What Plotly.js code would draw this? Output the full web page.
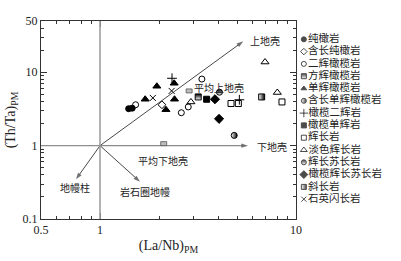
<!DOCTYPE html>
<html><head><meta charset="utf-8">
<script src="https://cdn.plot.ly/plotly-3.0.1.min.js"></script>
<style>html,body{margin:0;padding:0;background:#fff}</style>
</head><body><div id="chart" style="width:401px;height:261px"></div>
<script>
// ---- data ----
const categories = ['纯橄岩','含长纯橄岩','二辉橄榄岩','方辉橄榄岩','单辉橄榄岩','含长单辉橄榄岩','橄榄二辉岩','橄榄单辉岩','辉长岩','淡色辉长岩','辉长苏长岩','橄榄辉长苏长岩','斜长岩','石英闪长岩'];
const laNbDunite = [1.40, 1.46];            const thTaDunite = [3.19, 3.24];
const laNbPlagDunite = [2.07];              const thTaPlagDunite = [3.61];
const laNbLherzolite = [1.52, 2.60, 2.82, 3.31]; const thTaLherzolite = [3.61, 2.81, 3.37, 8.08];
const laNbHarzburgite = [3.17];             const thTaHarzburgite = [4.61];
const laNbWehrlite = [1.70, 1.95, 2.17, 2.39, 2.40]; const thTaWehrlite = [4.29, 6.45, 3.09, 7.08, 4.29];
const laNbPlagWehrlite = [4.84];            const thTaPlagWehrlite = [1.38];
const laNbOlWebsterite = [2.33, 5.14];      const thTaOlWebsterite = [8.28, 4.22];
const laNbOlClinopyroxenite = [3.50];       const thTaOlClinopyroxenite = [4.29];
const laNbGabbro = [4.66, 5.08, 8.48];      const thTaGabbro = [3.75, 3.75, 3.94];
const laNbLeucoGabbro = [2.91, 6.95, 8.03]; const thTaLeucoGabbro = [3.94, 13.8, 5.30];
const laNbGabbronorite = [4.07];            const thTaGabbronorite = [5.35];
const laNbOlGabbronorite = [3.86, 4.05];    const thTaOlGabbronorite = [4.29, 2.32];
const laNbAnorthosite = [6.68];             const thTaAnorthosite = [4.61];
const laNbQzDiorite = [1.86, 2.32];         const thTaQzDiorite = [4.47, 5.57];

const seriesX = [laNbDunite, laNbPlagDunite, laNbLherzolite, laNbHarzburgite, laNbWehrlite, laNbPlagWehrlite, laNbOlWebsterite, laNbOlClinopyroxenite, laNbGabbro, laNbLeucoGabbro, laNbGabbronorite, laNbOlGabbronorite, laNbAnorthosite, laNbQzDiorite];
const seriesY = [thTaDunite, thTaPlagDunite, thTaLherzolite, thTaHarzburgite, thTaWehrlite, thTaPlagWehrlite, thTaOlWebsterite, thTaOlClinopyroxenite, thTaGabbro, thTaLeucoGabbro, thTaGabbronorite, thTaOlGabbronorite, thTaAnorthosite, thTaQzDiorite];

// reference vectors (from primitive mantle point 1,1)
const vectorOrigin = [1, 1];
const vectorLabels = ['上地壳','下地壳','地幔柱','岩石圈地幔'];
const vectorTipX = [5.38, 5.69, 0.754, 1.60];
const vectorTipY = [26.4, 1.0, 0.347, 0.322];
const vectorLabelX = [6.95, 7.55, 0.745, 1.70];
const vectorLabelY = [26.4, 0.95, 0.262, 0.235];
// average crust
const crustLabels = ['平均上地壳','平均下地壳'];
const crustX = [2.75, 2.04];
const crustY = [5.23, 1.0];
const crustLabelX = [4.07, 2.10];
const crustLabelY = [6.06, 0.621];

// ticks
const xTickVals = [0.5, 1, 10];  const xTickText = ['0.5','1','10'];
const yTickVals = [0.1, 1, 10, 50]; const yTickText = ['0.1','1','10','50'];
const xMinor = [0.6,0.7,0.8,0.9,2,3,4,5,6,7,8,9];
const yMinor = [0.2,0.3,0.4,0.5,0.6,0.7,0.8,0.9,2,3,4,5,6,7,8,9,20,30,40];

// ---- styles ----
const symbols = ['circle','diamond-open','circle-open','square','triangle-up','circle','cross-thin-open','square','square-open','triangle-up-open','circle','diamond','square','x-thin-open'];
const fills   = ['#000','#000','#000','#000','#000','#fff','#000','#000','#000','#000','#000','#000','#fff','#000'];
const gradType = ['none','none','none','vertical','none','horizontal','none','none','none','none','vertical','none','horizontal','none'];
const gradColor = ['#000','#000','#000','#fff','#000','#000','#000','#000','#000','#000','#fff','#000','#000','#000'];
const sizes = [6,6,6,6,7,6,7,6,6,7,6,7,6,6];
const legendSizes = [5,5,5,5,5,5,6,5,5,6,5,6,5,5];

const cjkFamily = 'Liberation Serif, Noto Sans CJK SC';

const traces = categories.map((name, i) => ({
  type: 'scatter', mode: 'markers', name: name, showlegend: false,
  x: seriesX[i], y: seriesY[i], xaxis: 'x', yaxis: 'y',
  marker: {symbol: symbols[i], color: fills[i], size: sizes[i],
    gradient: {type: gradType[i], color: gradColor[i]},
    line: {color: '#000', width: 1}}
}));

// reference vectors as lines with arrow tips
vectorTipX.forEach((tx, i) => traces.push({
  type: 'scatter', mode: 'lines+markers', showlegend: false, hoverinfo: 'skip',
  x: [vectorOrigin[0], tx], y: [vectorOrigin[1], vectorTipY[i]], xaxis: 'x', yaxis: 'y',
  line: {color: i === 1 ? '#8a8a8a' : '#333', width: i === 1 ? 1.3 : 0.9},
  marker: {symbol: 'arrow', angleref: 'previous', size: [0, 7], color: '#333', line: {width: 0}}
}));

// legend drawn as a trace on its own axes
traces.push({
  type: 'scatter', mode: 'markers+text', showlegend: false, hoverinfo: 'skip',
  x: categories.map(() => 0.03), y: categories.map((_, i) => i),
  xaxis: 'x2', yaxis: 'y2', cliponaxis: false,
  text: categories, textposition: 'middle right',
  textfont: {family: cjkFamily, size: 10.5, color: '#222'},
  marker: {symbol: symbols, color: fills, size: legendSizes,
    gradient: {type: gradType, color: gradColor},
    line: {color: '#000', width: 1}}
});

const fontCJK = {family: cjkFamily, size: 10, color: '#222'};

const shapes = [
  {type: 'line', xref: 'x', yref: 'paper', x0: 1, x1: 1, y0: 0, y1: 1, line: {color: '#a0a0a0', width: 1.6}},
  {type: 'line', xref: 'x', yref: 'y', x0: xTickVals[0], x1: 1, y0: 1, y1: 1, line: {color: '#909090', width: 1.3}}
];
crustX.forEach((cx, i) => shapes.push({
  type: 'rect', xref: 'x', yref: 'y', xsizemode: 'pixel', ysizemode: 'pixel',
  xanchor: cx, yanchor: crustY[i], x0: -6, x1: 6, y0: -4, y1: 4,
  fillcolor: '#bdbdbd', line: {color: '#555', width: 0.8}
}));

const annotations = [];
vectorLabels.forEach((t, i) => annotations.push({xref: 'x', yref: 'y',
  x: Math.log10(vectorLabelX[i]), y: Math.log10(vectorLabelY[i]),
  text: t, showarrow: false, font: fontCJK}));
crustLabels.forEach((t, i) => annotations.push({xref: 'x', yref: 'y',
  x: Math.log10(crustLabelX[i]), y: Math.log10(crustLabelY[i]), text: t, showarrow: false, font: fontCJK}));

const axisCommon = {
  type: 'log', showgrid: false, zeroline: false, showline: true, linecolor: '#333', linewidth: 1,
  mirror: 'ticks', ticks: 'inside', ticklen: 6, tickwidth: 1, tickcolor: '#333',
  tickmode: 'array', tickfont: {family: 'Liberation Serif', size: 12, color: '#222'}
};

const layout = {
  width: 401, height: 261, margin: {l: 41, r: 5, t: 21, b: 42},
  paper_bgcolor: '#fff', plot_bgcolor: '#fff', showlegend: false,
  font: {family: 'Liberation Serif', color: '#222'},
  xaxis: Object.assign({}, axisCommon, {
    domain: [0, 255/355], range: [Math.log10(0.5), 1],
    tickvals: xTickVals, ticktext: xTickText, anchor: 'y',
    minor: {tickmode: 'array', tickvals: xMinor, ticks: 'inside', ticklen: 3, tickwidth: 1, tickcolor: '#333'},
    title: {text: '(La/Nb)<sub>PM</sub>', font: {family: 'Liberation Serif', size: 14, color: '#222'}, standoff: 3}
  }),
  yaxis: Object.assign({}, axisCommon, {
    domain: [0, 1], range: [-1, Math.log10(50)],
    tickvals: yTickVals, ticktext: yTickText, anchor: 'x',
    minor: {tickmode: 'array', tickvals: yMinor, ticks: 'inside', ticklen: 3, tickwidth: 1, tickcolor: '#333'},
    title: {text: '(Th/Ta)<sub>PM</sub>', font: {family: 'Liberation Serif', size: 14, color: '#222'}, standoff: 3}
  }),
  xaxis2: {domain: [(301 - 41)/355, 1], range: [0, 1], visible: false, anchor: 'y2', fixedrange: true},
  yaxis2: {domain: [0, 1], range: [14.61, -1.488], visible: false, anchor: 'x2', fixedrange: true},
  shapes: shapes, annotations: annotations
};

Plotly.newPlot('chart', traces, layout, {displayModeBar: false, staticPlot: true});
</script></body></html>
